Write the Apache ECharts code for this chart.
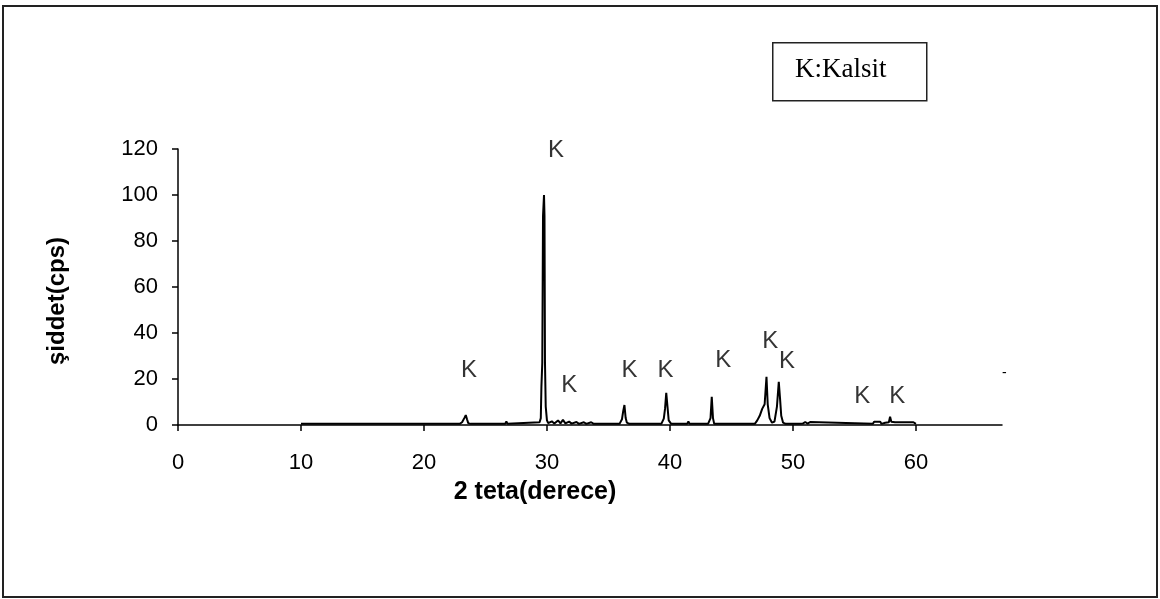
<!DOCTYPE html>
<html>
<head>
<meta charset="utf-8">
<script src="https://cdn.jsdelivr.net/npm/echarts@6/dist/echarts.min.js"></script>
<style>
  html, body { margin: 0; padding: 0; background: #fff; }
  #chart { width: 1160px; height: 599px; }
</style>
</head>
<body>
<div id="chart"></div>
<script>
// X-ray diffraction pattern: 2θ (degrees) vs intensity (cps)
const twoTheta = [
  10.0, 15.0, 20.0, 22.9, 23.1, 23.3, 23.4, 23.5, 23.6, 23.8,
  26.6, 26.7, 26.8,
  29.4, 29.5, 29.55, 29.62, 29.68, 29.76, 29.8, 29.84, 29.9, 30.0, 30.1,
  30.4, 30.6, 30.9, 31.1, 31.3, 31.5, 31.8, 32.0, 32.4, 32.6, 33.0, 33.2, 33.6, 33.8,
  35.9, 36.1, 36.2, 36.3, 36.4, 36.5, 36.7,
  39.3, 39.5, 39.6, 39.7, 39.8, 39.9, 40.1,
  41.4, 41.5, 41.6,
  43.1, 43.3, 43.4, 43.5, 43.6,
  46.9, 47.1, 47.3, 47.5, 47.7, 47.85, 47.95, 48.1, 48.3, 48.5, 48.7, 48.85, 48.95, 49.05, 49.2, 49.4,
  50.5, 50.6, 50.8, 51.0, 51.2, 51.4, 51.5,
  56.5, 56.6, 57.1, 57.2, 57.5, 57.8, 57.9, 58.0, 58.3, 59.8, 59.9, 60.0
];
const intensity = [
  0.5, 0.5, 0.5, 0.5, 1.2, 3.2, 4.3, 2.5, 0.8, 0.5,
  0.5, 1.5, 0.5,
  1.2, 3.0, 16.7, 27, 91, 100, 91, 27, 8, 2, 0.8,
  1.6, 0.6, 2.0, 0.7, 2.2, 0.7, 1.5, 0.6, 1.3, 0.5, 1.2, 0.5, 1.2, 0.5,
  0.5, 2.5, 6, 8.7, 3, 1, 0.5,
  0.5, 2.8, 7, 14, 8, 2, 0.5,
  0.5, 1.5, 0.5,
  0.5, 3, 12.3, 3, 0.5,
  0.5, 2, 4, 7, 9, 21, 9, 3, 1, 1.5, 8, 18.8, 11.7, 4, 1, 0.5,
  0.5, 1.3, 0.6, 1.3, 0.6, 1.3, 0.5,
  0.5, 1.4, 1.4, 0.5, 1.0, 1.2, 3.6, 1.4, 1.2, 1.2, 0.5, 0.5
];

// Calcite (K) peak annotations, placed in data coordinates
const peakLabelX = [23.66, 30.73, 31.82, 36.72, 39.63, 44.34, 48.15, 49.51, 55.63, 58.49];
const peakLabelY = [23.9, 119.6, 17.4, 23.9, 23.9, 28.3, 36.2, 27.5, 12.3, 12.3];
const peakLabelText = 'K';

const xTicks = [0, 10, 20, 30, 40, 50, 60];
const yTicks = [0, 20, 40, 60, 80, 100, 120];

const xTitle = '2 teta(derece)';
const yTitle = 'şiddet(cps)';
const legendText = 'K:Kalsit';

const sans = '"Liberation Sans", Arial, sans-serif';
const serif = '"Liberation Serif", "Times New Roman", serif';

const chart = echarts.init(document.getElementById('chart'), null, { renderer: 'canvas' });

const pattern = twoTheta.map((x, i) => [x, intensity[i]]);
const peakLabels = peakLabelX.map((x, i) => [x, peakLabelY[i]]);

chart.setOption({
  animation: false,
  backgroundColor: '#ffffff',
  grid: { left: 178, right: 158, top: 149, bottom: 174, containLabel: false },
  xAxis: {
    type: 'value',
    min: 0,
    max: 67,
    interval: 10,
    splitLine: { show: false },
    axisLine: { onZero: false, lineStyle: { color: '#000', width: 1.5 } },
    axisTick: { show: true, inside: false, length: 6, customValues: xTicks, lineStyle: { color: '#000', width: 1.5 } },
    axisLabel: { customValues: xTicks, margin: 27, color: '#000', fontFamily: sans, fontSize: 22 }
  },
  yAxis: {
    type: 'value',
    min: 0,
    max: 120,
    interval: 20,
    splitLine: { show: false },
    axisLine: { show: true, lineStyle: { color: '#000', width: 1.5 } },
    axisTick: { show: true, inside: false, length: 6, customValues: yTicks, lineStyle: { color: '#000', width: 1.5 } },
    axisLabel: { customValues: yTicks, margin: 20, color: '#000', fontFamily: sans, fontSize: 22 }
  },
  series: [
    {
      type: 'line',
      data: pattern,
      showSymbol: false,
      symbol: 'none',
      lineStyle: { color: '#000', width: 2 },
      clip: false,
      z: 3
    },
    {
      type: 'scatter',
      data: peakLabels,
      symbolSize: 0,
      silent: true,
      clip: false,
      label: {
        show: true,
        position: 'inside',
        formatter: peakLabelText,
        color: '#000',
        fontFamily: sans,
        fontSize: 24
      },
      z: 4
    }
  ],
  graphic: [
    {
      type: 'rect',
      shape: { x: 3, y: 6, width: 1154, height: 591 },
      style: { fill: null, stroke: '#222', lineWidth: 2 },
      silent: true
    },
    {
      type: 'group',
      left: 772,
      top: 42,
      children: [
        {
          type: 'rect',
          shape: { x: 0, y: 0, width: 154, height: 58 },
          style: { fill: '#fff', stroke: '#222', lineWidth: 1.5 }
        },
        {
          type: 'text',
          x: 68,
          y: 27,
          style: {
            text: legendText,
            fill: '#000',
            font: '27px ' + serif,
            textAlign: 'center',
            textVerticalAlign: 'middle'
          }
        }
      ]
    },
    // axis titles
    {
      type: 'text',
      x: 535,
      y: 492,
      style: {
        text: xTitle,
        fill: '#000',
        font: 'bold 25px ' + sans,
        textAlign: 'center',
        textVerticalAlign: 'middle'
      }
    },
    {
      type: 'text',
      x: 57,
      y: 301,
      rotation: Math.PI / 2,
      style: {
        text: yTitle,
        fill: '#000',
        font: 'bold 24px ' + sans,
        textAlign: 'center',
        textVerticalAlign: 'middle'
      }
    },
    {
      type: 'text',
      left: 1002,
      top: 366,
      style: { text: '-', fill: '#000', font: '14px ' + sans }
    }
  ]
});
</script>
</body>
</html>
